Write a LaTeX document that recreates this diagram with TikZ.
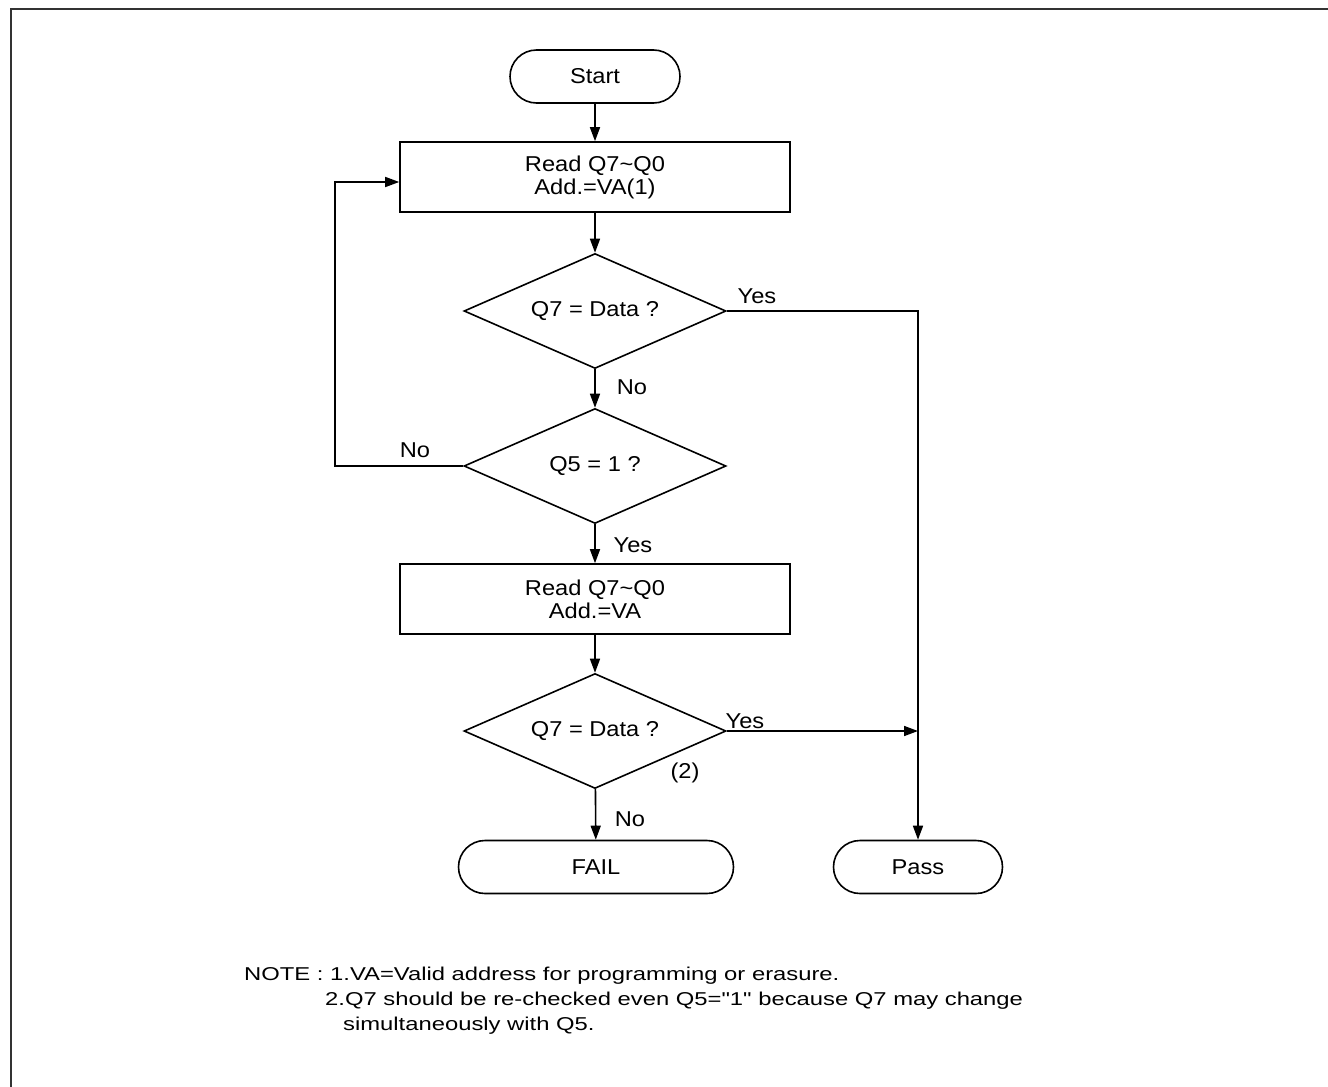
\documentclass[tikz,border=0pt]{standalone}
\usepackage{fontspec}
\setmainfont{Liberation Sans}[FakeStretch=1.1]
\newfontfamily\notefont{Liberation Sans}[FakeStretch=1.28]
\usepackage{tikz}
\usetikzlibrary{arrows.meta,positioning,shapes.geometric,shapes.misc}

\begin{document}
\begin{tikzpicture}[x=1pt, y=-1pt,
    every node/.style={font=\fontsize{21.5}{23}\selectfont},
    terminal/.style={draw, rounded rectangle, minimum height=53pt, inner sep=0pt, line width=1.6pt},
    process/.style={draw, rectangle, minimum width=390pt, minimum height=70pt, align=center, inner sep=0pt, line width=1.6pt},
    decision/.style={draw, diamond, aspect=2.28, minimum width=262pt, minimum height=115pt, inner sep=0pt, line width=1.6pt},
    answer/.style={inner sep=0pt},
    notetext/.style={inner sep=0pt, anchor=base west, font=\notefont\fontsize{18.6}{22}\selectfont},
    flow/.style={line width=1.6pt, -{Triangle[length=14pt,width=10pt]}},
    link/.style={line width=1.6pt}]

    \useasboundingbox (0,0) rectangle (1328,1087);
    \draw[line width=2pt, black!80] (11,1087) -- (11,9) -- (1328,9);

    % flow chart
    \node (start) [terminal, minimum width=170pt] at (595,76.5) {Start};
    \node (read1) [process] at (595,177) {Read Q7\textasciitilde Q0\\Add.=VA(1)};
    \node (test1) [decision] at (595,311) {Q7 = Data ?};
    \node (test2) [decision] at (595,466) {Q5 = 1 ?};
    \node (read2) [process] at (595,599) {Read Q7\textasciitilde Q0\\Add.=VA};
    \node (test3) [decision] at (595,731) {Q7 = Data ?};
    \node (fail) [terminal, minimum width=275pt] at (596,867) {FAIL};
    \node (pass) [terminal, minimum width=169pt] at (918,867) {Pass};
    \coordinate (loopcorner) at (335,182);

    \draw[flow] (start) -- (read1);
    \draw[flow] (read1) -- (test1);
    \draw[flow] (test1.east) -| (pass.north);
    \draw[flow] (test1) -- (test2);
    \draw[flow] (test2.west) -| (loopcorner) -- (read1.west |- loopcorner);
    \draw[flow] (test2) -- (read2);
    \draw[flow] (read2) -- (test3);
    \draw[flow] (test3.east) -- (test3.east -| pass.north);
    \draw[flow] (test3) -- (fail);

    % answers
    \node (yes1) [answer] at (757,296) {Yes};
    \node (no1) [answer] at (632,387) {No};
    \node (no2) [answer] at (415,450) {No};
    \node (yes2) [answer] at (633,545) {Yes};
    \node (yes3) [answer] at (745,721) {Yes};
    \node (mark2) [answer] at (685,773) {(2)};
    \node (no3) [answer] at (630,819) {No};

    % notes
    \node (note1) [notetext] at (244,980) {NOTE : 1.VA=Valid address for programming or erasure.};
    \node (note2) [notetext] at (325,1005) {2.Q7 should be re-checked even Q5="1" because Q7 may change};
    \node (note3) [notetext] at (343,1030) {simultaneously with Q5.};
\end{tikzpicture}
\end{document}
